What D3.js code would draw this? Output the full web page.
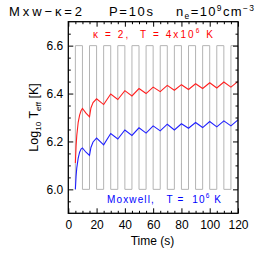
<!DOCTYPE html>
<html><head><meta charset="utf-8">
<script src="https://cdn.jsdelivr.net/npm/d3@7"></script>
<style>
html,body{margin:0;padding:0;background:#fff;}
svg text{font-family:"Liberation Sans",Arial,Helvetica,sans-serif;}
</style></head>
<body><svg id="c" width="258" height="258"></svg>
<script>
// ---- data ----
const timeVals  = [5,5.5,6,7,8,9,10,12.5,15,16,17.5,20,25,30,35,40,45,50,55,60,65,70,75,80,85,90,95,100,105,110,115,120];
const kappaVals = [6.11,6.18,6.225,6.28,6.31,6.328,6.338,6.318,6.303,6.34,6.362,6.378,6.354,6.398,6.375,6.412,6.390,6.421,6.400,6.427,6.408,6.434,6.414,6.437,6.417,6.441,6.421,6.445,6.423,6.448,6.427,6.451];
const maxwVals  = [6.0,6.055,6.09,6.13,6.155,6.168,6.173,6.155,6.142,6.175,6.198,6.214,6.186,6.233,6.210,6.248,6.225,6.257,6.235,6.265,6.244,6.272,6.248,6.274,6.255,6.279,6.258,6.283,6.261,6.286,6.265,6.290];
const pulseEdges = [5,10,15,20,25,30,35,40,45,50,55,60,65,70,75,80,85,90,95,100,105,110,115,120];
const pulseLow = 6.0, pulseHigh = 6.6;
const xTickMajor = [0,20,40,60,80,100,120];
const xTickMinor = [5,10,15,25,30,35,45,50,55,65,70,75,85,90,95,105,110,115];
const yTickMajor = [6.0,6.2,6.4,6.6];
const yTickMinor = [5.95,6.05,6.1,6.15,6.25,6.3,6.35,6.45,6.5,6.55,6.65];
const xDomain = [0,120], yDomain = [5.9,6.7];

// ---- layout ----
const L=68.3, R=238, T=21.7, B=213.3;
const svg = d3.select("#c");
const x = d3.scaleLinear().domain(xDomain).range([L,R]);
const y = d3.scaleLinear().domain(yDomain).range([B,T]);

// pulse square wave
const pulsePts = [[pulseEdges[0], pulseLow]].concat(pulseEdges.map((t,i)=>[t, i%2===0?pulseHigh:pulseLow]));
svg.append("path").attr("d", d3.line().x(d=>x(d[0])).y(d=>y(d[1])).curve(d3.curveStepAfter)(pulsePts))
  .attr("fill","none").attr("stroke","#b4b4b4").attr("stroke-width",1);

const line = d3.line().x((d,i)=>x(timeVals[i])).y(d=>y(d));
svg.append("path").attr("d", line(kappaVals)).attr("fill","none").attr("stroke","#ff2020").attr("stroke-width",1.1);
svg.append("path").attr("d", line(maxwVals)).attr("fill","none").attr("stroke","#2020ff").attr("stroke-width",1.1);

// axes
function styleAxis(g){ g.select(".domain").remove(); g.selectAll("line").attr("stroke","#000").attr("stroke-width",1);
  g.selectAll("text").attr("font-family","Liberation Sans, Arial, sans-serif").attr("font-size",12).attr("fill","#000"); }
svg.append("g").attr("transform",`translate(${L},0)`).call(d3.axisLeft(y).tickValues(yTickMajor).tickFormat(d3.format(".1f")).tickSize(-5).tickPadding(5)).call(styleAxis);
svg.append("g").attr("transform",`translate(${L},0)`).call(d3.axisLeft(y).tickValues(yTickMinor).tickFormat("").tickSize(-2.5)).call(styleAxis);
svg.append("g").attr("transform",`translate(${R},0)`).call(d3.axisRight(y).tickValues(yTickMajor).tickFormat("").tickSize(-5)).call(styleAxis);
svg.append("g").attr("transform",`translate(${R},0)`).call(d3.axisRight(y).tickValues(yTickMinor).tickFormat("").tickSize(-2.5)).call(styleAxis);
svg.append("g").attr("transform",`translate(0,${B})`).call(d3.axisBottom(x).tickValues(xTickMajor).tickFormat(d3.format("d")).tickSize(-5).tickPadding(7)).call(styleAxis);
svg.append("g").attr("transform",`translate(0,${B})`).call(d3.axisBottom(x).tickValues(xTickMinor).tickFormat("").tickSize(-2.5)).call(styleAxis);
svg.append("g").attr("transform",`translate(0,${T})`).call(d3.axisTop(x).tickValues(xTickMajor).tickFormat("").tickSize(-5)).call(styleAxis);
svg.append("g").attr("transform",`translate(0,${T})`).call(d3.axisTop(x).tickValues(xTickMinor).tickFormat("").tickSize(-2.5)).call(styleAxis);

svg.append("rect").attr("x",L).attr("y",T).attr("width",R-L).attr("height",B-T)
  .attr("fill","none").attr("stroke","#000").attr("stroke-width",1.3);

// texts with sub/superscripts (dy reset carried on the next tspan)
function rich(sel, parts){
  let cur = 0;
  parts.forEach(p=>{
    const target = p[1]==="sup" ? -5 : p[1]==="sub" ? 3 : 0;
    const ts = sel.append("tspan").text(p[0]);
    if(target!==cur) ts.attr("dy", target-cur);
    if(p[1]!=="n") ts.attr("font-size","0.65em");
    cur = target;
  });
}
svg.append("text").attr("x",9).attr("y",16).attr("font-size",13).attr("textLength",73).attr("lengthAdjust","spacing").text("Mxw\u2212\u03ba=2");
svg.append("text").attr("x",109).attr("y",16).attr("font-size",13).attr("textLength",44).attr("lengthAdjust","spacing").text("P=10s");
const t3 = svg.append("text").attr("x",176).attr("y",16).attr("font-size",13).attr("textLength",78).attr("lengthAdjust","spacing");
rich(t3, [["n","n"],["e","sub"],["=10","n"],["9","sup"],["cm","n"],["\u22123","sup"]]);

const tk = svg.append("text").attr("x",93).attr("y",37.5).attr("font-size",10).attr("fill","#ff0000")
  .attr("textLength",120).attr("lengthAdjust","spacing").attr("xml:space","preserve");
rich(tk, [["\u03ba = 2,  T = 4x10","n"],["6","sup"],[" K","n"]]);
const tm = svg.append("text").attr("x",107).attr("y",202.5).attr("font-size",10).attr("fill","#0000ff")
  .attr("textLength",114).attr("lengthAdjust","spacing").attr("xml:space","preserve");
rich(tm, [["Moxwell,   T =  10","n"],["6","sup"],[" K","n"]]);

const yl = svg.append("text").attr("transform","translate(38,117.5) rotate(-90)").attr("text-anchor","middle").attr("font-size",12.5);
rich(yl, [["Log","n"],["10","sub"],[" T","n"],["eff","sub"],[" [K]","n"]]);
svg.append("text").attr("x",152.5).attr("y",245).attr("text-anchor","middle").attr("font-size",12).text("Time (s)");
</script></body></html>
